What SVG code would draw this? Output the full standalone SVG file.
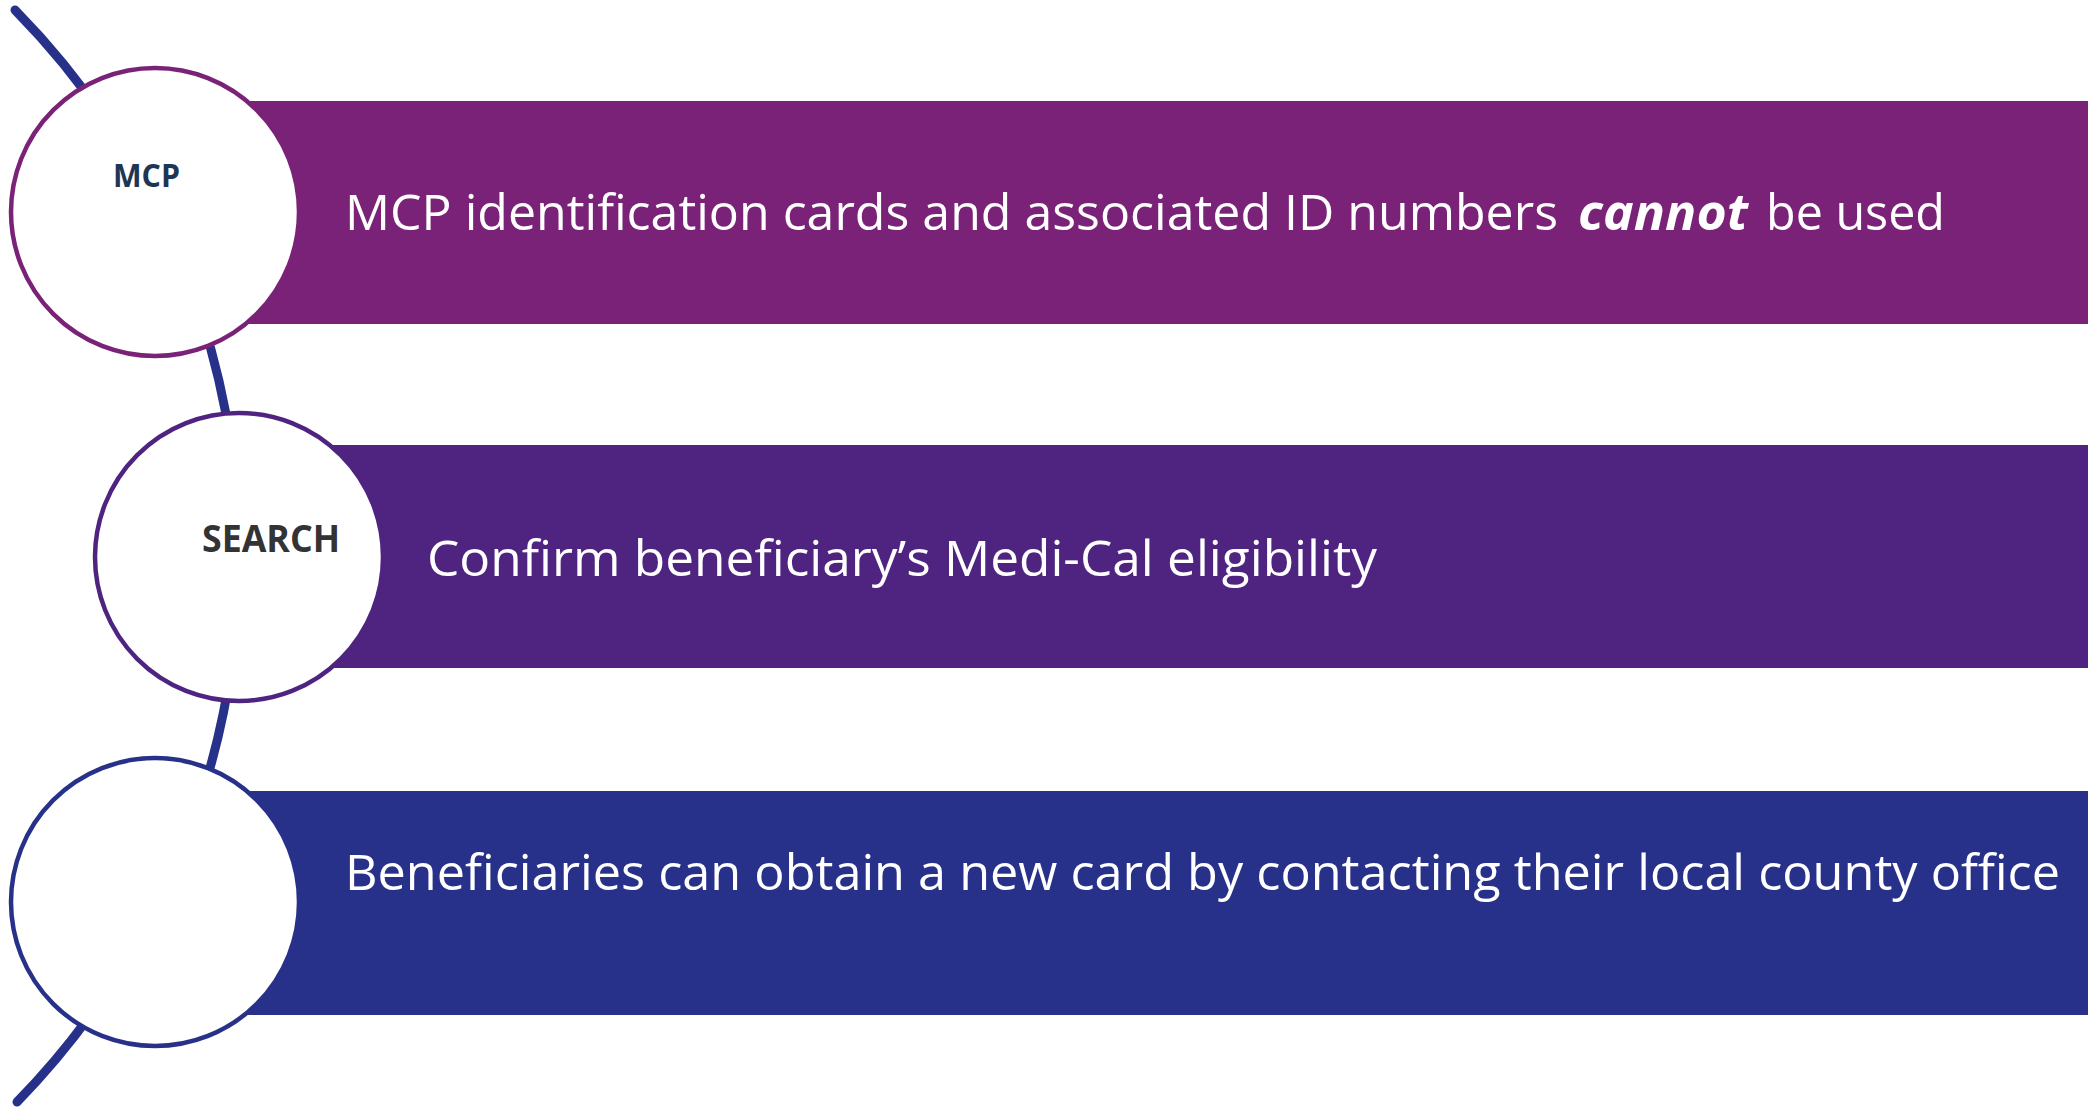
<svg xmlns="http://www.w3.org/2000/svg" width="2097" height="1107" viewBox="0 0 2097 1107">
<style>
.band{stroke:none}
.node{fill:#ffffff;stroke-width:4.5}
.main{font-family:"Open Sans","Liberation Sans",sans-serif;font-size:50px;fill:#ffffff;font-weight:400}
.em{font-weight:700;font-style:italic}
.lbl{font-family:"Open Sans","Liberation Sans",sans-serif;font-weight:700}
</style>
<rect width="2097" height="1107" fill="#ffffff"/>
<g id="connectors">
<path d="M 15 10 A 780 780 0 0 1 17 1102" fill="none" stroke="#28318A" stroke-width="9" stroke-linecap="round"/>
</g>
<g id="node1">
<rect class="band" x="155" y="101" width="1933" height="223" fill="#7A2277"/>
<circle class="node" cx="155" cy="212" r="144" stroke="#7A2277"/>
<text class="lbl" x="113" y="187" font-size="33" fill="#1E3553" textLength="67" lengthAdjust="spacingAndGlyphs">MCP</text>
<text class="main" x="345" y="230" textLength="1213" lengthAdjust="spacingAndGlyphs">MCP identification cards and associated ID numbers</text>
<text class="main em" x="1578" y="230" textLength="170" lengthAdjust="spacingAndGlyphs">cannot</text>
<text class="main" x="1766" y="230" textLength="179" lengthAdjust="spacingAndGlyphs">be used</text>
</g>
<g id="node2">
<rect class="band" x="239" y="445" width="1849" height="223" fill="#4F2480"/>
<circle class="node" cx="239" cy="557" r="144" stroke="#4F2480"/>
<text class="lbl" x="202" y="552" font-size="37" fill="#333333" textLength="138" lengthAdjust="spacingAndGlyphs">SEARCH</text>
<text class="main" x="427" y="576" textLength="950" lengthAdjust="spacingAndGlyphs">Confirm beneficiary’s Medi-Cal eligibility</text>
</g>
<g id="node3">
<rect class="band" x="155" y="791" width="1933" height="224" fill="#28318A"/>
<circle class="node" cx="155" cy="902" r="144" stroke="#28318A"/>
<text class="main" x="345" y="890" textLength="1715" lengthAdjust="spacingAndGlyphs">Beneficiaries can obtain a new card by contacting their local county office</text>
</g>
</svg>
